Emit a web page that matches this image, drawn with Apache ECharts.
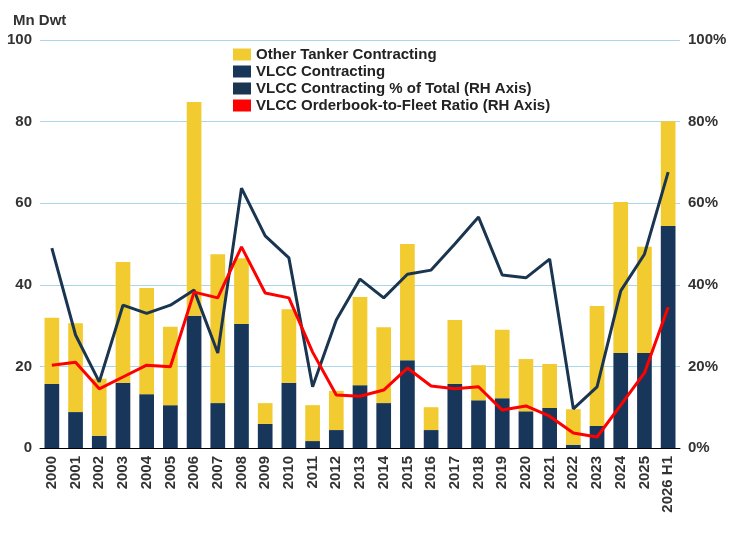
<!DOCTYPE html>
<html><head><meta charset="utf-8">
<script src="https://cdn.jsdelivr.net/npm/echarts@6/dist/echarts.min.js"></script>
<style>html,body{margin:0;background:#fff}#c{width:744px;height:543px}</style>
</head><body><div id="c"></div>
<script>
var years = ['2000','2001','2002','2003','2004','2005','2006','2007','2008','2009','2010','2011','2012','2013','2014','2015','2016','2017','2018','2019','2020','2021','2022','2023','2024','2025','2026 H1'];
var totalContracting = [31.9,30.6,17,45.6,39.2,29.7,84.8,47.5,46.5,11,34,10.5,14,37,29.6,50,10,31.4,20.3,29,21.8,20.6,9.5,34.8,60.3,49.3,80.1];
var vlccContracting = [15.7,8.8,3,16,13.2,10.5,32.4,11,30.4,5.9,16,1.7,4.4,15.4,11,21.5,4.4,15.7,11.7,12.2,9,9.8,0.8,5.4,23.3,23.3,54.4];
var vlccPct = [49,27.7,16.2,35,33,35,38.7,23.3,63.7,52,46.6,15,31.4,41.4,36.8,42.6,43.6,50,56.6,42.4,41.7,46.3,9.6,15,38.5,47.5,67.6];
var orderbookRatio = [20.3,21,14.5,17.4,20.3,19.9,38.2,36.8,49.3,38,36.8,23.5,13,12.7,14.2,19.6,15.2,14.5,15,9.3,10.3,7.8,3.7,2.7,10.5,18.4,34.5];

var otherTanker = totalContracting.map(function(t, i){ return +(t - vlccContracting[i]).toFixed(1); });

var chart = echarts.init(document.getElementById('c'));
var txt = {fontFamily: 'Arial, Liberation Sans', fontWeight: 'bold', fontSize: 15, color: '#333'};
chart.setOption({
    animation: false,
    textStyle: {fontFamily: 'Arial, Liberation Sans'},
    title: {text: 'Mn Dwt', left: 8, top: 8, textStyle: {fontSize: 15, fontWeight: 'bold', color: '#333'}},
    legend: {
        orient: 'vertical', left: 228, top: 42, itemGap: 2, itemWidth: 18, itemHeight: 12,
        textStyle: {fontSize: 15, fontWeight: 'bold', color: '#222'},
        data: [
            {name: 'Other Tanker Contracting', icon: 'rect'},
            {name: 'VLCC Contracting', icon: 'rect'},
            {name: 'VLCC Contracting % of Total (RH Axis)', icon: 'rect', itemStyle: {color: '#1a3550'}},
            {name: 'VLCC Orderbook-to-Fleet Ratio (RH Axis)', icon: 'rect', itemStyle: {color: '#ff0000'}}
        ]
    },
    grid: {left: 40, right: 64, top: 40, bottom: 95},
    xAxis: {
        type: 'category', data: years,
        axisLine: {lineStyle: {color: '#000'}}, axisTick: {show: false},
        axisLabel: {rotate: 90, interval: 0, fontSize: 15, fontWeight: 'bold', color: '#333'}
    },
    yAxis: [{
        type: 'value', min: 0, max: 100, interval: 20,
        axisLabel: {fontSize: 15, fontWeight: 'bold', color: '#333'},
        splitLine: {lineStyle: {color: '#a8d8ea'}}
    }, {
        type: 'value', min: 0, max: 100, interval: 20,
        axisLabel: {fontSize: 15, fontWeight: 'bold', color: '#333', formatter: '{value}%'},
        splitLine: {show: false}
    }],
    series: [
        {name: 'VLCC Contracting', type: 'bar', stack: 't', barWidth: '62%', itemStyle: {color: '#17365a'}, data: vlccContracting},
        {name: 'Other Tanker Contracting', type: 'bar', stack: 't', itemStyle: {color: '#f2cb30'}, data: otherTanker},
        {name: 'VLCC Contracting % of Total (RH Axis)', type: 'line', yAxisIndex: 1, symbol: 'none',
            lineStyle: {color: '#1a3550', width: 3}, itemStyle: {color: '#1a3550'}, data: vlccPct},
        {name: 'VLCC Orderbook-to-Fleet Ratio (RH Axis)', type: 'line', yAxisIndex: 1, symbol: 'none',
            lineStyle: {color: '#ff0000', width: 3}, itemStyle: {color: '#ff0000'}, data: orderbookRatio}
    ]
});
</script></body></html>
